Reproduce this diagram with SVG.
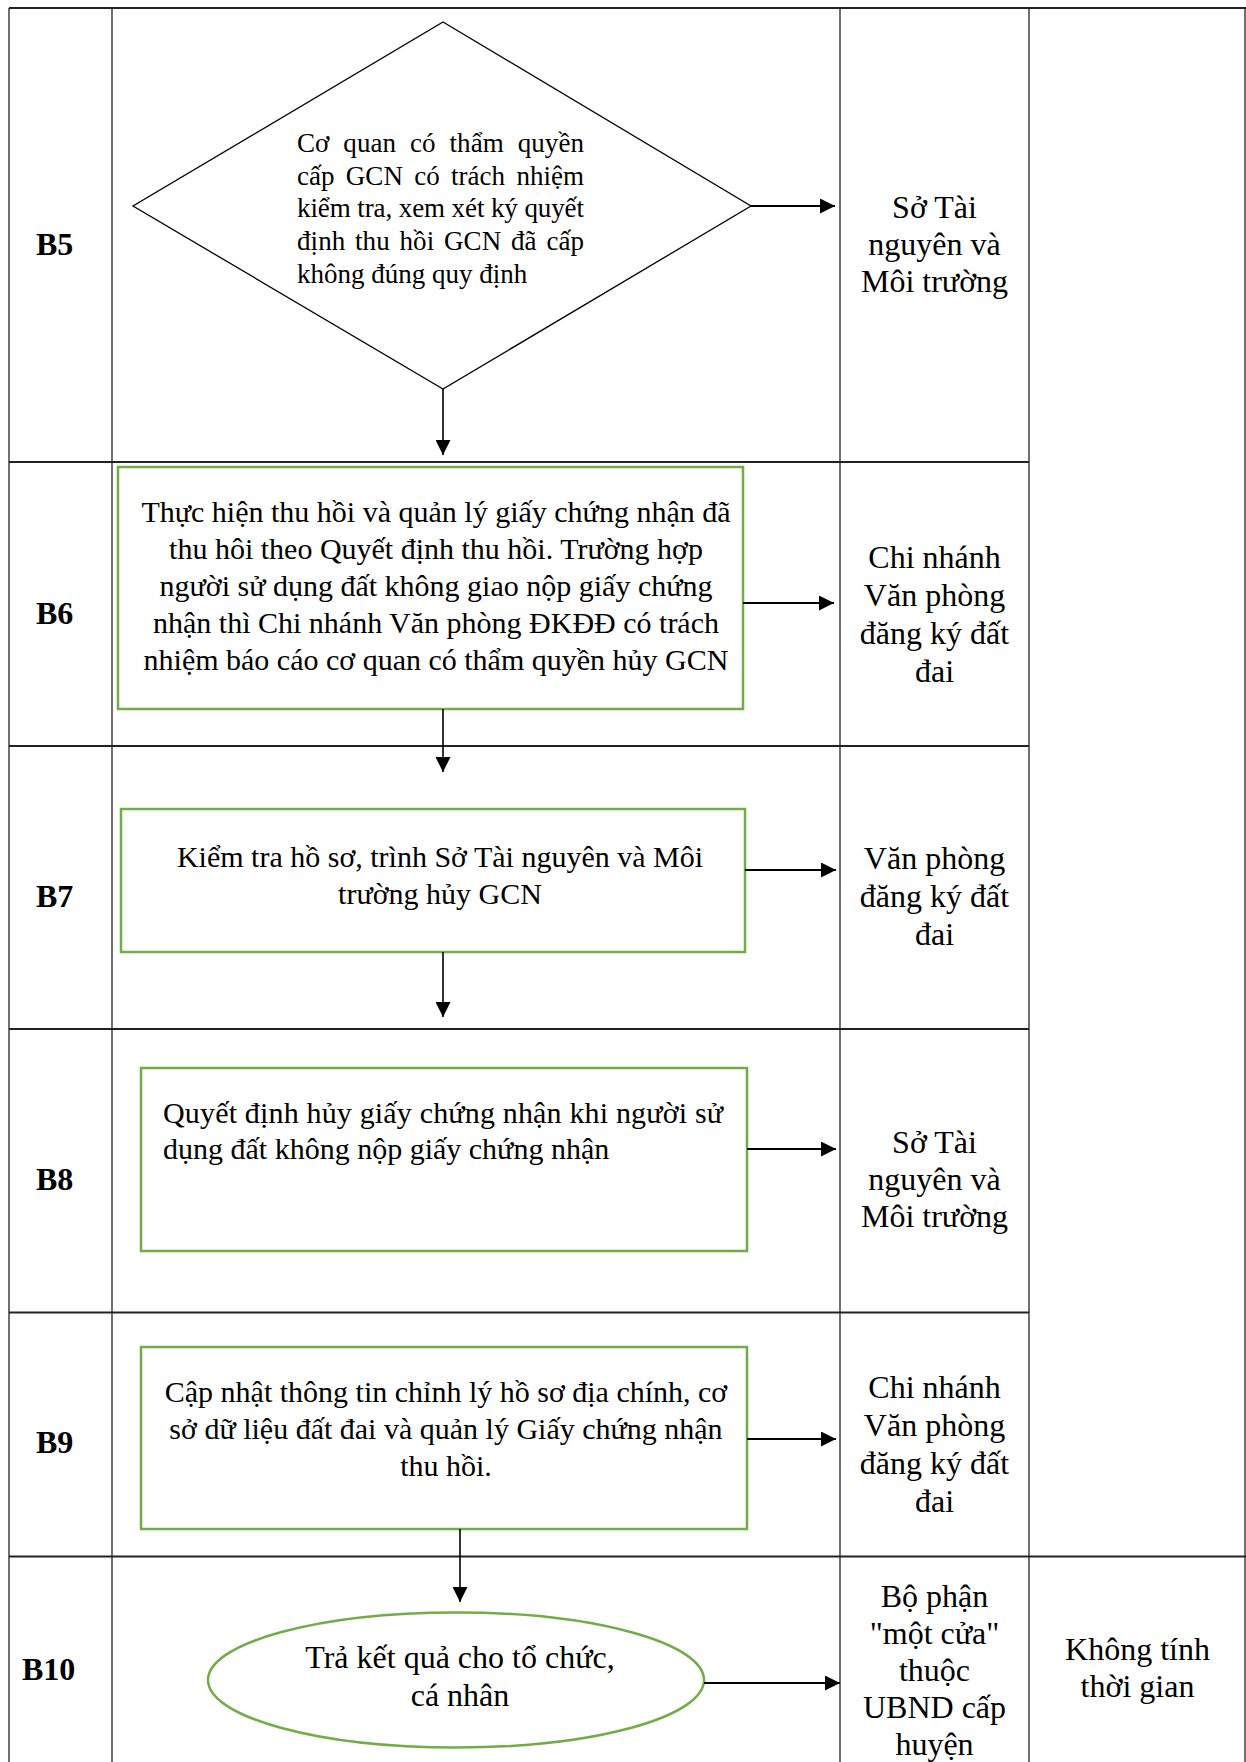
<svg xmlns="http://www.w3.org/2000/svg" width="1246" height="1762" viewBox="0 0 1246 1762">
<style>
text{font-family:"Liberation Serif","Times New Roman",serif;fill:#000}
.t{font-size:32px}
.x{font-size:30px}
.d{font-size:27px}
.c{text-anchor:middle}
.b{font-size:32px;font-weight:bold}
.grid{stroke:#222;stroke-width:1.3;fill:none}
.row{stroke:#222;stroke-width:2;fill:none}
.box{fill:#fff;stroke:#70ad47;stroke-width:2.5}
.con{stroke:#000;fill:none}
</style>
<defs>
<marker id="ah" markerUnits="userSpaceOnUse" markerWidth="15" markerHeight="15" refX="15" refY="7.5" orient="auto">
<path d="M0,0 L15,7.5 L0,15 z" fill="#000"/>
</marker>
</defs>
<rect width="1246" height="1762" fill="#fff"/>
<g id="grid">
<line class="row" x1="9" y1="8" x2="1246" y2="8"/>
<line class="grid" x1="9" y1="8" x2="9" y2="1762"/>
<line class="grid" x1="112" y1="8" x2="112" y2="1762"/>
<line class="grid" x1="840" y1="8" x2="840" y2="1762"/>
<line class="grid" x1="1029" y1="8" x2="1029" y2="1762"/>
<line class="grid" x1="1245" y1="8" x2="1245" y2="1762"/>
<line class="row" x1="9" y1="462" x2="1029" y2="462"/>
<line class="row" x1="9" y1="746" x2="1029" y2="746"/>
<line class="row" x1="9" y1="1029" x2="1029" y2="1029"/>
<line class="row" x1="9" y1="1312.5" x2="1029" y2="1312.5"/>
<line class="row" x1="9" y1="1556.5" x2="1246" y2="1556.5"/>
</g>
<g id="labels">
<text class="b" x="36" y="255">B5</text>
<text class="b" x="36" y="624">B6</text>
<text class="b" x="36" y="907">B7</text>
<text class="b" x="36" y="1190">B8</text>
<text class="b" x="36" y="1453">B9</text>
<text class="b" x="22" y="1680">B10</text>
</g>
<g id="actors">
<text class="t c" x="934.5" y="218">Sở Tài</text>
<text class="t c" x="934.5" y="255">nguyên và</text>
<text class="t c" x="934.5" y="292">Môi trường</text>
<text class="t c" x="934.5" y="568">Chi nhánh</text>
<text class="t c" x="934.5" y="606">Văn phòng</text>
<text class="t c" x="934.5" y="644">đăng ký đất</text>
<text class="t c" x="934.5" y="682">đai</text>
<text class="t c" x="934.5" y="869">Văn phòng</text>
<text class="t c" x="934.5" y="907">đăng ký đất</text>
<text class="t c" x="934.5" y="945">đai</text>
<text class="t c" x="934.5" y="1153">Sở Tài</text>
<text class="t c" x="934.5" y="1190">nguyên và</text>
<text class="t c" x="934.5" y="1227">Môi trường</text>
<text class="t c" x="934.5" y="1398">Chi nhánh</text>
<text class="t c" x="934.5" y="1436">Văn phòng</text>
<text class="t c" x="934.5" y="1474">đăng ký đất</text>
<text class="t c" x="934.5" y="1512">đai</text>
<text class="t c" x="934.5" y="1607">Bộ phận</text>
<text class="t c" x="934.5" y="1644">"một cửa"</text>
<text class="t c" x="934.5" y="1681">thuộc</text>
<text class="t c" x="934.5" y="1718">UBND cấp</text>
<text class="t c" x="934.5" y="1755">huyện</text>
<text class="t c" x="1137.5" y="1660">Không tính</text>
<text class="t c" x="1137.5" y="1697">thời gian</text>
</g>
<g id="B5-node">
<polygon points="443,22 751,206 443,389 133,206" fill="#fff" stroke="#000" stroke-width="1.3"/>
<text class="d" x="297" y="152" word-spacing="7" textLength="287" lengthAdjust="spacing">Cơ quan có thẩm quyền</text>
<text class="d" x="297" y="185" word-spacing="4.5" textLength="287" lengthAdjust="spacing">cấp GCN có trách nhiệm</text>
<text class="d" x="297" y="217" textLength="287" lengthAdjust="spacing">kiểm tra, xem xét ký quyết</text>
<text class="d" x="297" y="250" word-spacing="3" textLength="287" lengthAdjust="spacing">định thu hồi GCN đã cấp</text>
<text class="d" x="297" y="283">không đúng quy định</text>
</g>
<g id="B6-node">
<rect class="box" x="118" y="467" width="625" height="242"/>
<text class="x c" x="436" y="522">Thực hiện thu hồi và quản lý giấy chứng nhận đã</text>
<text class="x c" x="436" y="559">thu hôi theo Quyết định thu hồi. Trường hợp</text>
<text class="x c" x="436" y="596">người sử dụng đất không giao nộp giấy chứng</text>
<text class="x c" x="436" y="633">nhận thì Chi nhánh Văn phòng ĐKĐĐ có trách</text>
<text class="x c" x="436" y="670">nhiệm báo cáo cơ quan có thẩm quyền hủy GCN</text>
</g>
<g id="B7-node">
<rect class="box" x="121" y="809" width="624" height="143"/>
<text class="x c" x="440" y="867">Kiểm tra hồ sơ, trình Sở Tài nguyên và Môi</text>
<text class="x c" x="440" y="904">trường hủy GCN</text>
</g>
<g id="B8-node">
<rect class="box" x="141" y="1068" width="606" height="183"/>
<text class="x" x="163" y="1123" textLength="560" lengthAdjust="spacing">Quyết định hủy giấy chứng nhận khi người sử</text>
<text class="x" x="163" y="1159">dụng đất không nộp giấy chứng nhận</text>
</g>
<g id="B9-node">
<rect class="box" x="141" y="1347" width="606" height="182"/>
<text class="x c" x="446" y="1402">Cập nhật thông tin chỉnh lý hồ sơ địa chính, cơ</text>
<text class="x c" x="446" y="1439">sở dữ liệu đất đai và quản lý Giấy chứng nhận</text>
<text class="x c" x="446" y="1476">thu hồi.</text>
</g>
<g id="B10-node">
<ellipse class="box" cx="456" cy="1680" rx="248" ry="67.5"/>
<text class="t c" x="460" y="1668">Trả kết quả cho tổ chức,</text>
<text class="t c" x="460" y="1706">cá nhân</text>
</g>
<g id="connectors">
<line class="con" stroke-width="2" x1="751" y1="206" x2="835" y2="206" marker-end="url(#ah)"/>
<line class="con" stroke-width="1.6" x1="443" y1="389" x2="443" y2="455" marker-end="url(#ah)"/>
<line class="con" stroke-width="2" x1="743" y1="603" x2="834" y2="603" marker-end="url(#ah)"/>
<line class="con" stroke-width="1.6" x1="443" y1="709" x2="443" y2="772" marker-end="url(#ah)"/>
<line class="con" stroke-width="2" x1="745" y1="870" x2="836" y2="870" marker-end="url(#ah)"/>
<line class="con" stroke-width="1.6" x1="443" y1="952" x2="443" y2="1017" marker-end="url(#ah)"/>
<line class="con" stroke-width="2" x1="747" y1="1149" x2="836" y2="1149" marker-end="url(#ah)"/>
<line class="con" stroke-width="2" x1="747" y1="1439" x2="836" y2="1439" marker-end="url(#ah)"/>
<line class="con" stroke-width="1.6" x1="460" y1="1529" x2="460" y2="1602" marker-end="url(#ah)"/>
<line class="con" stroke-width="2" x1="704" y1="1683" x2="840" y2="1683" marker-end="url(#ah)"/>
</g>
</svg>
